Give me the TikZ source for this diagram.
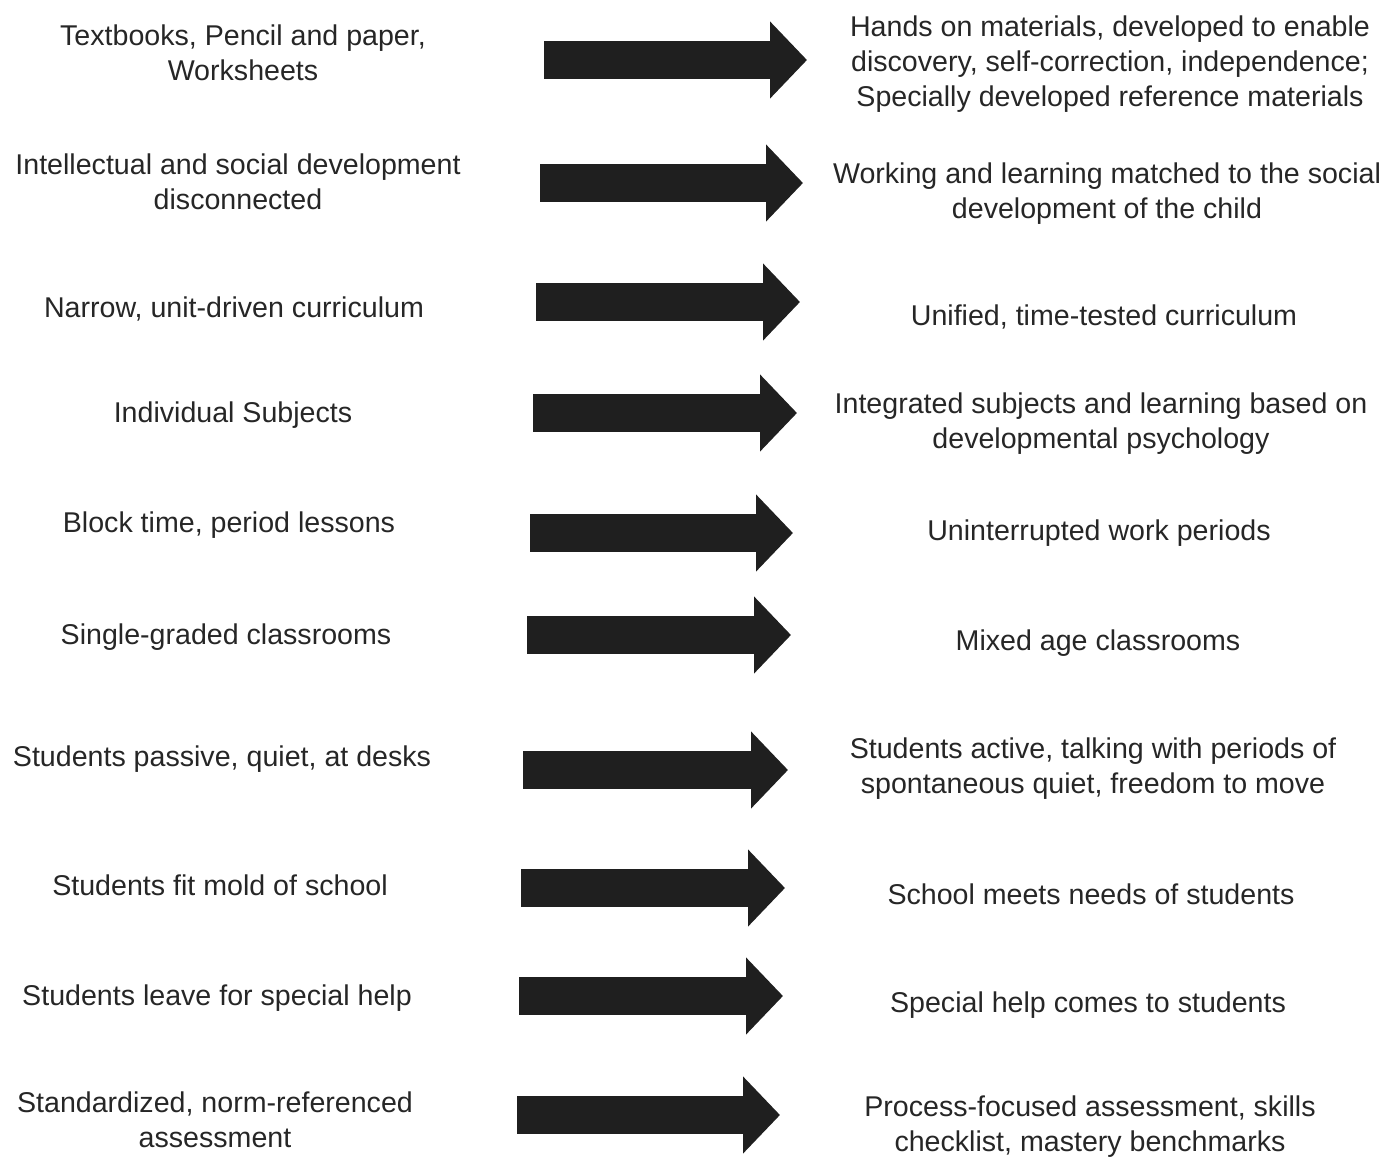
\documentclass[tikz,border=0pt]{standalone}
\usepackage{fontspec}
\setmainfont{Liberation Sans}
\usetikzlibrary{arrows.meta}

\begin{document}
\begin{tikzpicture}[x=0.5pt,y=-0.5pt,
  txt/.style={align=center,inner sep=0pt,text=black!85,font=\fontsize{14.3}{17.5}\selectfont},
  bigarrow/.style={line width=19pt,draw=black!88,-{Triangle[length=18.5pt,width=37.5pt]}}]
\useasboundingbox (0,0) rectangle (1389,1164);
% rows: left text, right text, arrow
\foreach \i/\lx/\ly/\rx/\ry/\ax/\bx/\ay/\lt/\rt in {
 1/243/53/1110/64/544/807/60/{Textbooks, Pencil and paper,\\Worksheets}/{Hands on materials, developed to enable\\discovery, self-correction, independence;\\Specially developed reference materials},
 2/238/182/1107/194/540/803/183/{Intellectual and social development\\disconnected}/{Working and learning matched to the social\\development of the child},
 3/234/309/1104/317/536/800/302/{Narrow, unit-driven curriculum}/{Unified, time-tested curriculum},
 4/233/415/1101/424/533/797/413/{Individual Subjects}/{Integrated subjects and learning based on\\developmental psychology},
 5/229/525/1099/533/530/793/533/{Block time, period lessons}/{Uninterrupted work periods},
 6/226/637/1098/643/527/791/635/{Single-graded classrooms}/{Mixed age classrooms},
 7/222/759/1093/769/523/788/770/{Students passive, quiet, at desks}/{Students active, talking with periods of\\spontaneous quiet, freedom to move},
 8/220/885/1091/894/521/785/888/{Students fit mold of school}/{School meets needs of students},
 9/217/998/1088/1005/519/783/996/{Students leave for special help}/{Special help comes to students},
 10/215/1120/1090/1127/517/780/1115/{Standardized, norm-referenced\\assessment}/{Process-focused assessment, skills\\checklist, mastery benchmarks}}
{
 \node[txt] (l\i) at (\lx,\ly) {\lt};
 \node[txt] (r\i) at (\rx,\ry) {\rt};
 \coordinate (a\i) at (\ax,\ay);
 \coordinate (b\i) at (\bx,\ay);
 \draw[bigarrow] (a\i) -- (b\i);
}
\end{tikzpicture}
\end{document}
